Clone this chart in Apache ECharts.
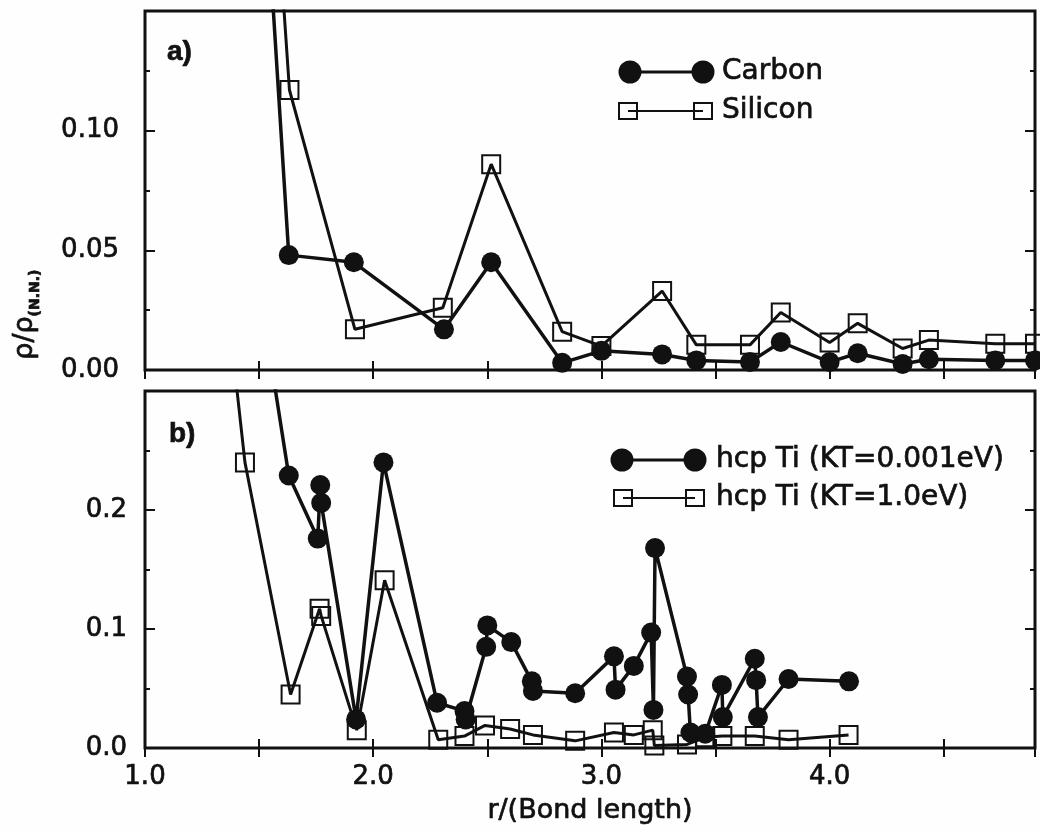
<!DOCTYPE html>
<html>
<head>
<meta charset="utf-8">
<script src="https://cdn.jsdelivr.net/npm/echarts@6/dist/echarts.min.js"></script>
<style>
  html, body { margin: 0; padding: 0; background: #fff; }
  #chart { width: 1040px; height: 832px; }
</style>
</head>
<body>
<div id="chart"></div>
<script>
// Panel a) : shell distances (in bond lengths) and relative occupation
const carbonR   = [1.0, 1.63, 1.915, 2.31, 2.517, 2.828, 3.0, 3.266, 3.416, 3.651, 3.786, 4.0, 4.123, 4.32, 4.435, 4.726, 4.9];
const carbonV   = [1.0, 0.048, 0.045, 0.017, 0.045, 0.003, 0.008, 0.0065, 0.004, 0.0033, 0.0117, 0.0033, 0.007, 0.0025, 0.0045, 0.004, 0.004];
const siliconR  = [1.0, 1.633, 1.92, 2.305, 2.517, 2.828, 3.0, 3.266, 3.416, 3.651, 3.786, 4.0, 4.123, 4.32, 4.435, 4.726, 4.9];
const siliconV  = [1.0, 0.117, 0.017, 0.026, 0.086, 0.016, 0.010, 0.033, 0.0105, 0.0105, 0.024, 0.0115, 0.0195, 0.009, 0.0125, 0.011, 0.011];

// Panel b) : hcp Ti at two temperatures
const tiColdR = [1.0, 1.63, 1.757, 1.768, 1.772, 1.925, 2.045, 2.28, 2.40, 2.405, 2.495, 2.50, 2.605, 2.695, 2.70, 2.885,
                 3.055, 3.062, 3.142, 3.218, 3.228, 3.235, 3.375, 3.38, 3.39, 3.455, 3.528, 3.532, 3.672, 3.678, 3.686, 3.82, 4.085];
const tiColdV = [1.0, 0.229, 0.176, 0.221, 0.206, 0.024, 0.240, 0.038, 0.031, 0.024, 0.085, 0.103, 0.089, 0.056, 0.048, 0.046,
                 0.077, 0.049, 0.069, 0.097, 0.032, 0.168, 0.060, 0.045, 0.013, 0.012, 0.053, 0.026, 0.075, 0.057, 0.026, 0.058, 0.056];
const tiHotR  = [1.0, 1.438, 1.638, 1.765, 1.772, 1.928, 2.05, 2.285, 2.40, 2.49, 2.60, 2.70, 2.885, 3.055, 3.142, 3.225,
                 3.232, 3.375, 3.455, 3.53, 3.672, 3.82, 4.083];
const tiHotV  = [1.0, 0.240, 0.045, 0.117, 0.111, 0.015, 0.141, 0.007, 0.010, 0.019, 0.016, 0.011, 0.006, 0.013, 0.011, 0.015,
                 0.002, 0.003, 0.009, 0.010, 0.010, 0.007, 0.011];

// Axis ranges and labels
const xRange = [1.0, 4.9];
const yRangeA = [0, 0.15];
const yRangeB = [0, 0.3];
const legendA = ['Carbon', 'Silicon'];
const legendB = ['hcp Ti (KT=0.001eV)', 'hcp Ti (KT=1.0eV)'];
const panelTags = ['a)', 'b)'];
const xTitle = 'r/(Bond length)';
const yTitleMain = 'ρ/ρ';
const yTitleSub = '(N.N.)';

const INK = '#111111';
const FONT = '"DejaVu Sans", sans-serif';
const HEAVY = 0.7;   // thin outline that thickens the glyph strokes a little

const zip = (xs, ys) => xs.map((x, i) => [x, ys[i]]);

function xAxisDef(gridIndex, position, withLabels) {
  return {
    type: 'value', gridIndex, position,
    min: xRange[0], max: xRange[1], interval: 0.5,
    axisLine: { show: false },
    axisTick: { show: true, inside: true, length: 9, lineStyle: { color: INK, width: 2 } },
    splitLine: { show: false },
    axisLabel: {
      show: withLabels, margin: 16, color: INK, fontSize: 26, fontFamily: FONT,
      textBorderColor: INK, textBorderWidth: HEAVY,
      formatter: v => (Math.abs(v - Math.round(v)) < 1e-9 ? v.toFixed(1) : '')
    }
  };
}

function yAxisDef(gridIndex, position, range, step, digits, withLabels, margin) {
  return {
    type: 'value', gridIndex, position,
    min: range[0], max: range[1], interval: step,
    axisLine: { show: false },
    axisTick: { show: true, inside: true, length: 10, lineStyle: { color: INK, width: 2 } },
    minorTick: { show: true, splitNumber: 2, length: 5, lineStyle: { color: INK, width: 2 } },
    splitLine: { show: false },
    minorSplitLine: { show: false },
    axisLabel: {
      show: withLabels, margin, color: INK, fontSize: 26, fontFamily: FONT,
      textBorderColor: INK, textBorderWidth: HEAVY,
      formatter: v => (v > range[1] - step / 4 ? '' : v.toFixed(digits))
    }
  };
}

function circleSeries(xi, yi, r, v) {
  return {
    type: 'line', xAxisIndex: xi, yAxisIndex: yi, data: zip(r, v),
    symbol: 'circle', symbolSize: 20, clip: true, silent: true, z: 4,
    lineStyle: { color: INK, width: 3.5 },
    itemStyle: { color: INK }
  };
}

function squareSeries(xi, yi, r, v) {
  return {
    type: 'line', xAxisIndex: xi, yAxisIndex: yi, data: zip(r, v),
    symbol: 'rect', symbolSize: 18, clip: true, silent: true, z: 3,
    lineStyle: { color: INK, width: 3 },
    itemStyle: { color: 'rgba(0,0,0,0)', borderColor: INK, borderWidth: 2 }
  };
}

function textStyle(text, font, align) {
  return {
    text, font, fill: INK, stroke: INK, lineWidth: HEAVY,
    align, verticalAlign: 'middle', textAlign: align, textVerticalAlign: 'middle'
  };
}

// Legend entry: marker - line - marker followed by a label
function legendEntry(x1, x2, y, textX, label, filled) {
  const els = [{
    type: 'line', shape: { x1, y1: y, x2, y2: y },
    style: { stroke: INK, lineWidth: filled ? 3 : 2 }
  }];
  [x1, x2].forEach(cx => {
    if (filled) {
      els.push({ type: 'circle', shape: { cx, cy: y, r: 11.5 }, style: { fill: INK } });
    } else {
      els.push({ type: 'rect', shape: { x: cx - 9, y: y - 8, width: 18, height: 16 },
                 style: { fill: 'rgba(0,0,0,0)', stroke: INK, lineWidth: 2 } });
    }
  });
  els.push({ type: 'text', x: textX, y, style: textStyle(label, '28px ' + FONT, 'left') });
  return els;
}

const graphics = [
  ...legendEntry(630, 703, 72, 722, legendA[0], true),
  ...legendEntry(628, 703, 111, 722, legendA[1], false),
  ...legendEntry(622, 695, 460, 716, legendB[0], true),
  ...legendEntry(623, 695, 498, 716, legendB[1], false),
  { type: 'text', x: 167, y: 52, style: textStyle(panelTags[0], 'bold 28px "Liberation Sans", sans-serif', 'left') },
  { type: 'text', x: 169, y: 434, style: textStyle(panelTags[1], 'bold 28px "Liberation Sans", sans-serif', 'left') },
  { type: 'text', x: 25, y: 338, rotation: Math.PI / 2, style: textStyle(yTitleMain, '27px ' + FONT, 'center') },
  { type: 'text', x: 35, y: 293, rotation: Math.PI / 2, style: textStyle(yTitleSub, 'bold 14px ' + FONT, 'center') }
];

const chart = echarts.init(document.getElementById('chart'), null, { renderer: 'canvas' });
chart.setOption({
  animation: false,
  backgroundColor: '#fefefe',
  grid: [
    { left: 145, right: 5, top: 11, height: 359, show: true, borderColor: INK, borderWidth: 3, backgroundColor: 'transparent' },
    { left: 145, right: 5, top: 391, height: 357, show: true, borderColor: INK, borderWidth: 3, backgroundColor: 'transparent' }
  ],
  xAxis: [
    xAxisDef(0, 'bottom', false),
    xAxisDef(0, 'top', false),
    Object.assign(xAxisDef(1, 'bottom', true), {
      name: xTitle, nameLocation: 'middle', nameGap: 49,
      nameTextStyle: { color: INK, fontSize: 27, fontFamily: FONT, textBorderColor: INK, textBorderWidth: HEAVY }
    }),
    xAxisDef(1, 'top', false)
  ],
  yAxis: [
    yAxisDef(0, 'left', yRangeA, 0.05, 2, true, 26),
    yAxisDef(0, 'right', yRangeA, 0.05, 2, false, 8),
    yAxisDef(1, 'left', yRangeB, 0.1, 1, true, 18),
    yAxisDef(1, 'right', yRangeB, 0.1, 1, false, 8)
  ],
  series: [
    squareSeries(0, 0, siliconR, siliconV),
    circleSeries(0, 0, carbonR, carbonV),
    squareSeries(2, 2, tiHotR, tiHotV),
    circleSeries(2, 2, tiColdR, tiColdV)
  ],
  graphic: graphics
});
</script>
</body>
</html>
